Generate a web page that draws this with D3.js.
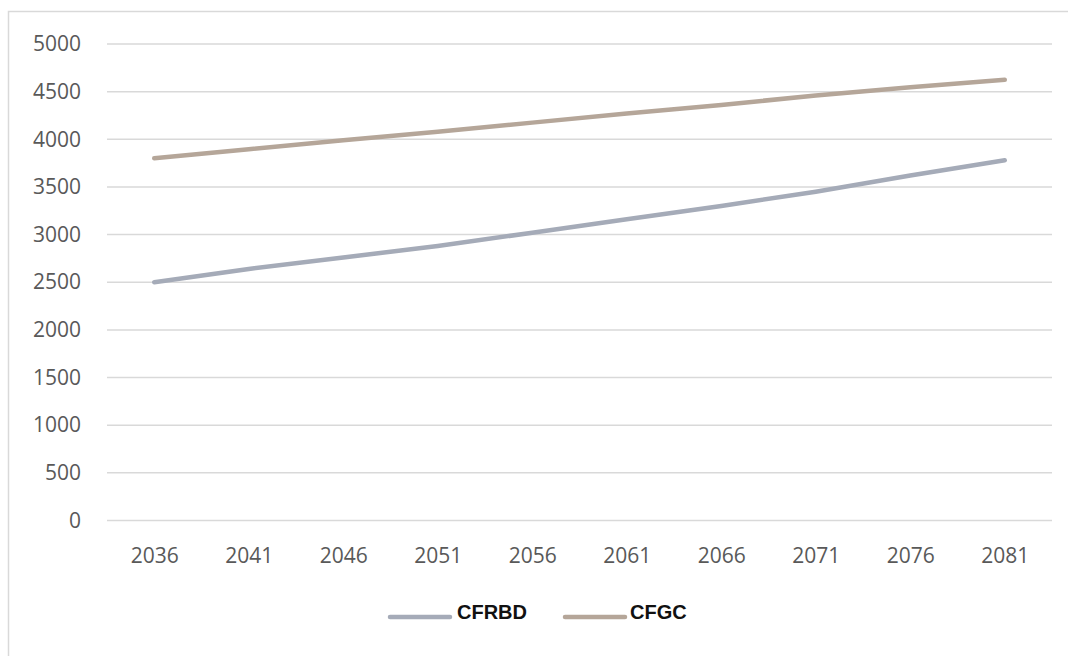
<!DOCTYPE html>
<html>
<head>
<meta charset="utf-8">
<script src="https://cdn.jsdelivr.net/npm/d3@7"></script>
<style>
  html, body { margin: 0; padding: 0; background: #fff; }
  svg { display: block; }
</style>
</head>
<body>
<svg id="chart" width="1068" height="656"></svg>
<script>
// Projected values per year for the two series
const years = ["2036", "2041", "2046", "2051", "2056", "2061", "2066", "2071", "2076", "2081"];
const cfrbd = [2500, 2640, 2760, 2880, 3020, 3160, 3300, 3450, 3620, 3780];
const cfgc  = [3800, 3895, 3990, 4080, 4175, 4270, 4360, 4460, 4545, 4625];
const yTicks = [0, 500, 1000, 1500, 2000, 2500, 3000, 3500, 4000, 4500, 5000];

const seriesNames = ["CFRBD", "CFGC"];
const seriesColors = ["#a5abb8", "#b5a699"];
const seriesValues = [cfrbd, cfgc];

const svg = d3.select("#chart");
const W = 1068, H = 656;
const plot = { left: 107, right: 1052, top: 44, bottom: 520.5 };
const labelFont = "'Open Sans', 'Noto Sans', sans-serif";

// Chart frame (top and left edges visible)
svg.append("path")
  .attr("d", `M8.5,${H} V11.5 H${W}`)
  .attr("fill", "none")
  .attr("stroke", "#d9d9d9")
  .attr("stroke-width", 1.5);

const x = d3.scalePoint().domain(years).range([plot.left, plot.right]).padding(0.5);
const y = d3.scaleLinear().domain([0, 5000]).range([plot.bottom, plot.top]);

// Horizontal gridlines
svg.append("g")
  .selectAll("line")
  .data(yTicks)
  .join("line")
  .attr("x1", plot.left).attr("x2", plot.right)
  .attr("y1", d => y(d)).attr("y2", d => y(d))
  .attr("stroke", "#d9d9d9")
  .attr("stroke-width", 1.5);

// Y axis labels
const yAxis = d3.axisLeft(y).tickValues(yTicks).tickFormat(d3.format("d")).tickSize(0).tickPadding(0);
svg.append("g")
  .attr("transform", "translate(81,0)")
  .call(yAxis)
  .call(g => g.select(".domain").remove())
  .call(g => g.selectAll("text")
    .attr("fill", "#595959")
    .style("font-family", labelFont)
    .style("font-size", "21px"));

// X axis labels
const xAxis = d3.axisBottom(x).tickSize(0).tickPadding(0);
svg.append("g")
  .attr("transform", "translate(0,548)")
  .call(xAxis)
  .call(g => g.select(".domain").remove())
  .call(g => g.selectAll("text")
    .attr("fill", "#595959")
    .style("font-family", labelFont)
    .style("font-size", "21px"));

// Series lines
const line = d3.line()
  .x((d, i) => x(years[i]))
  .y(d => y(d));

svg.append("g")
  .selectAll("path")
  .data(seriesValues)
  .join("path")
  .attr("d", d => line(d))
  .attr("fill", "none")
  .attr("stroke", (d, i) => seriesColors[i])
  .attr("stroke-width", 4.5)
  .attr("stroke-linecap", "round")
  .attr("stroke-linejoin", "round");

// Legend
const legendItems = [
  { x: 390, textX: 457 },
  { x: 565, textX: 630 }
];
const legend = svg.append("g");
seriesNames.forEach((name, i) => {
  legend.append("line")
    .attr("x1", legendItems[i].x).attr("x2", legendItems[i].x + 60)
    .attr("y1", 617).attr("y2", 617)
    .attr("stroke", seriesColors[i])
    .attr("stroke-width", 4.5)
    .attr("stroke-linecap", "round");
  legend.append("text")
    .attr("x", legendItems[i].textX)
    .attr("y", 614)
    .attr("dominant-baseline", "middle")
    .attr("fill", "#111")
    .style("font-family", "'Liberation Sans Narrow', 'Liberation Sans', Arial, sans-serif")
    .style("font-weight", "bold")
    .style("font-size", "20px")
    .text(name);
});
</script>
</body>
</html>
